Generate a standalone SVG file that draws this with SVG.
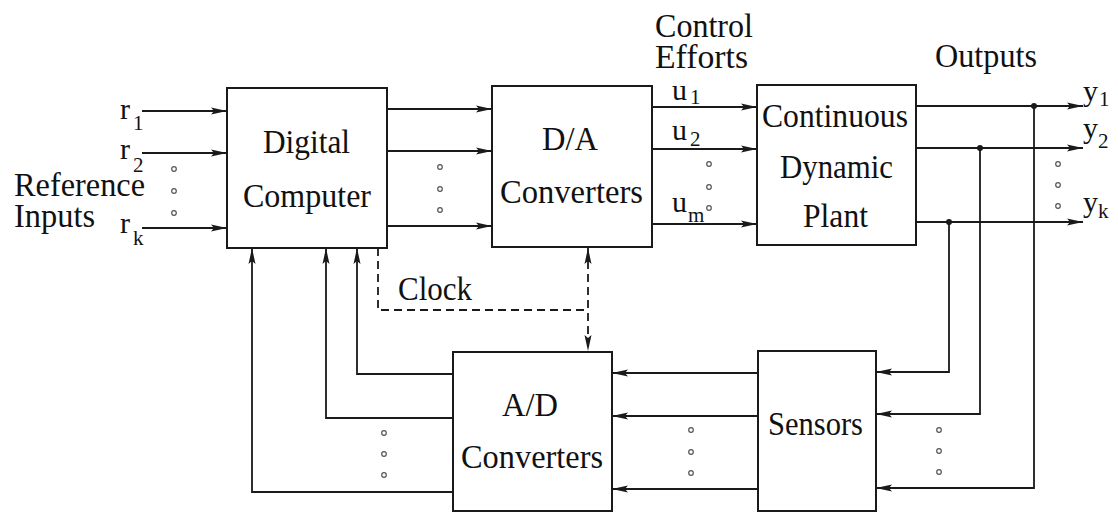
<svg xmlns="http://www.w3.org/2000/svg" width="1118" height="513" viewBox="0 0 1118 513">
<style>
.box{fill:#fff;stroke:#1a1a1a;stroke-width:2}
.ln{fill:none;stroke:#1a1a1a;stroke-width:1.8}
.dash{fill:none;stroke:#1a1a1a;stroke-width:1.8;stroke-dasharray:8,5}
.t{font-family:"Liberation Serif","Times New Roman",serif;font-size:33px;fill:#111}
.v{font-family:"Liberation Serif","Times New Roman",serif;font-size:30px;fill:#111}
.s{font-family:"Liberation Serif","Times New Roman",serif;font-size:21px;fill:#111}
.dot{fill:none;stroke:#555;stroke-width:1.2}
.jn{fill:#1a1a1a}
</style>
<defs>
<marker id="ah" markerUnits="userSpaceOnUse" markerWidth="17" markerHeight="8" refX="16" refY="4" orient="auto-start-reverse">
<path d="M0,0.5 L16,4 L0,7.5 L3,4 Z" fill="#1a1a1a"/>
</marker>
</defs>

<g id="connectors">
<!-- reference inputs -->
<line class="ln" x1="142" y1="111" x2="227" y2="111" marker-end="url(#ah)"/>
<line class="ln" x1="142" y1="153" x2="227" y2="153" marker-end="url(#ah)"/>
<line class="ln" x1="142" y1="228" x2="227" y2="228" marker-end="url(#ah)"/>
<!-- computer to D/A -->
<line class="ln" x1="387" y1="109" x2="492" y2="109" marker-end="url(#ah)"/>
<line class="ln" x1="387" y1="151" x2="492" y2="151" marker-end="url(#ah)"/>
<line class="ln" x1="387" y1="226" x2="492" y2="226" marker-end="url(#ah)"/>
<!-- D/A to plant -->
<line class="ln" x1="652" y1="107" x2="757" y2="107" marker-end="url(#ah)"/>
<line class="ln" x1="652" y1="149" x2="757" y2="149" marker-end="url(#ah)"/>
<line class="ln" x1="652" y1="224" x2="757" y2="224" marker-end="url(#ah)"/>
<!-- plant outputs -->
<line class="ln" x1="916" y1="106" x2="1083" y2="106" marker-end="url(#ah)"/>
<line class="ln" x1="916" y1="148" x2="1083" y2="148" marker-end="url(#ah)"/>
<line class="ln" x1="916" y1="222" x2="1083" y2="222" marker-end="url(#ah)"/>
<!-- feedback to sensors -->
<path class="ln" d="M949,222 V372 H876" marker-end="url(#ah)"/>
<path class="ln" d="M980,148 V414 H876" marker-end="url(#ah)"/>
<path class="ln" d="M1034,106 V488 H876" marker-end="url(#ah)"/>
<!-- sensors to A/D -->
<line class="ln" x1="758" y1="373" x2="612" y2="373" marker-end="url(#ah)"/>
<line class="ln" x1="758" y1="416" x2="612" y2="416" marker-end="url(#ah)"/>
<line class="ln" x1="758" y1="489" x2="612" y2="489" marker-end="url(#ah)"/>
<!-- A/D to computer -->
<path class="ln" d="M453,374 H357 V248" marker-end="url(#ah)"/>
<path class="ln" d="M453,418 H326 V248" marker-end="url(#ah)"/>
<path class="ln" d="M453,492 H252 V248" marker-end="url(#ah)"/>
<!-- clock -->
<path class="dash" d="M378,248 V310 H588"/>
<line class="dash" x1="588" y1="248" x2="588" y2="351" marker-start="url(#ah)" marker-end="url(#ah)"/>
<!-- junctions -->
<circle class="jn" cx="1034" cy="106" r="3"/>
<circle class="jn" cx="980" cy="148" r="3"/>
<circle class="jn" cx="949" cy="222" r="3"/>
</g>

<g id="ellipses">
<circle class="dot" cx="174" cy="169" r="2.3"/><circle class="dot" cx="174" cy="191" r="2.3"/><circle class="dot" cx="174" cy="213" r="2.3"/>
<circle class="dot" cx="440" cy="167" r="2.3"/><circle class="dot" cx="440" cy="189" r="2.3"/><circle class="dot" cx="440" cy="210" r="2.3"/>
<circle class="dot" cx="709" cy="164" r="2.3"/><circle class="dot" cx="709" cy="187" r="2.3"/><circle class="dot" cx="709" cy="208" r="2.3"/>
<circle class="dot" cx="1058" cy="164" r="2.3"/><circle class="dot" cx="1058" cy="185" r="2.3"/><circle class="dot" cx="1058" cy="206" r="2.3"/>
<circle class="dot" cx="384" cy="433" r="2.3"/><circle class="dot" cx="384" cy="454" r="2.3"/><circle class="dot" cx="384" cy="475" r="2.3"/>
<circle class="dot" cx="691" cy="430" r="2.3"/><circle class="dot" cx="691" cy="452" r="2.3"/><circle class="dot" cx="691" cy="473" r="2.3"/>
<circle class="dot" cx="939" cy="430" r="2.3"/><circle class="dot" cx="939" cy="451" r="2.3"/><circle class="dot" cx="939" cy="472" r="2.3"/>
</g>

<g id="node-computer">
<rect class="box" x="227" y="88" width="160" height="160"/>
<text class="t" x="263" y="153" textLength="87" lengthAdjust="spacingAndGlyphs">Digital</text>
<text class="t" x="243" y="207" textLength="128" lengthAdjust="spacingAndGlyphs">Computer</text>
</g>

<g id="node-da">
<rect class="box" x="492" y="86" width="160" height="161"/>
<text class="t" x="542" y="150" textLength="56" lengthAdjust="spacingAndGlyphs">D/A</text>
<text class="t" x="500" y="203" textLength="143" lengthAdjust="spacingAndGlyphs">Converters</text>
</g>

<g id="node-plant">
<rect class="box" x="757" y="85" width="159" height="160"/>
<text class="t" x="762" y="127" textLength="146" lengthAdjust="spacingAndGlyphs">Continuous</text>
<text class="t" x="780" y="178" textLength="113" lengthAdjust="spacingAndGlyphs">Dynamic</text>
<text class="t" x="803" y="227" textLength="65" lengthAdjust="spacingAndGlyphs">Plant</text>
</g>

<g id="node-ad">
<rect class="box" x="453" y="352" width="159" height="159"/>
<text class="t" x="502" y="416" textLength="56" lengthAdjust="spacingAndGlyphs">A/D</text>
<text class="t" x="461" y="468" textLength="142" lengthAdjust="spacingAndGlyphs">Converters</text>
</g>

<g id="node-sensors">
<rect class="box" x="758" y="351" width="118" height="160"/>
<text class="t" x="768" y="435" textLength="95" lengthAdjust="spacingAndGlyphs">Sensors</text>
</g>

<g id="labels">
<text class="t" x="14" y="196" textLength="131" lengthAdjust="spacingAndGlyphs">Reference</text>
<text class="t" x="14" y="227" textLength="81" lengthAdjust="spacingAndGlyphs">Inputs</text>
<text class="v" x="120" y="119">r</text><text class="s" x="133" y="130">1</text>
<text class="v" x="120" y="159">r</text><text class="s" x="133" y="172">2</text>
<text class="v" x="120" y="233">r</text><text class="s" x="133" y="245">k</text>

<text class="t" x="655" y="37" textLength="98" lengthAdjust="spacingAndGlyphs">Control</text>
<text class="t" x="655" y="68" textLength="93" lengthAdjust="spacingAndGlyphs">Efforts</text>
<text class="v" x="672" y="100">u</text><text class="s" x="690" y="104">1</text>
<text class="v" x="672" y="140">u</text><text class="s" x="690" y="146">2</text>
<text class="v" x="672" y="212">u</text><text class="s" x="688" y="222">m</text>

<text class="t" x="935" y="67" textLength="102" lengthAdjust="spacingAndGlyphs">Outputs</text>
<text class="v" x="1083" y="101">y</text><text class="s" x="1099" y="106">1</text>
<text class="v" x="1083" y="138">y</text><text class="s" x="1098" y="148">2</text>
<text class="v" x="1083" y="212">y</text><text class="s" x="1098" y="218">k</text>

<text class="t" x="398" y="300" textLength="74" lengthAdjust="spacingAndGlyphs">Clock</text>
</g>
</svg>
